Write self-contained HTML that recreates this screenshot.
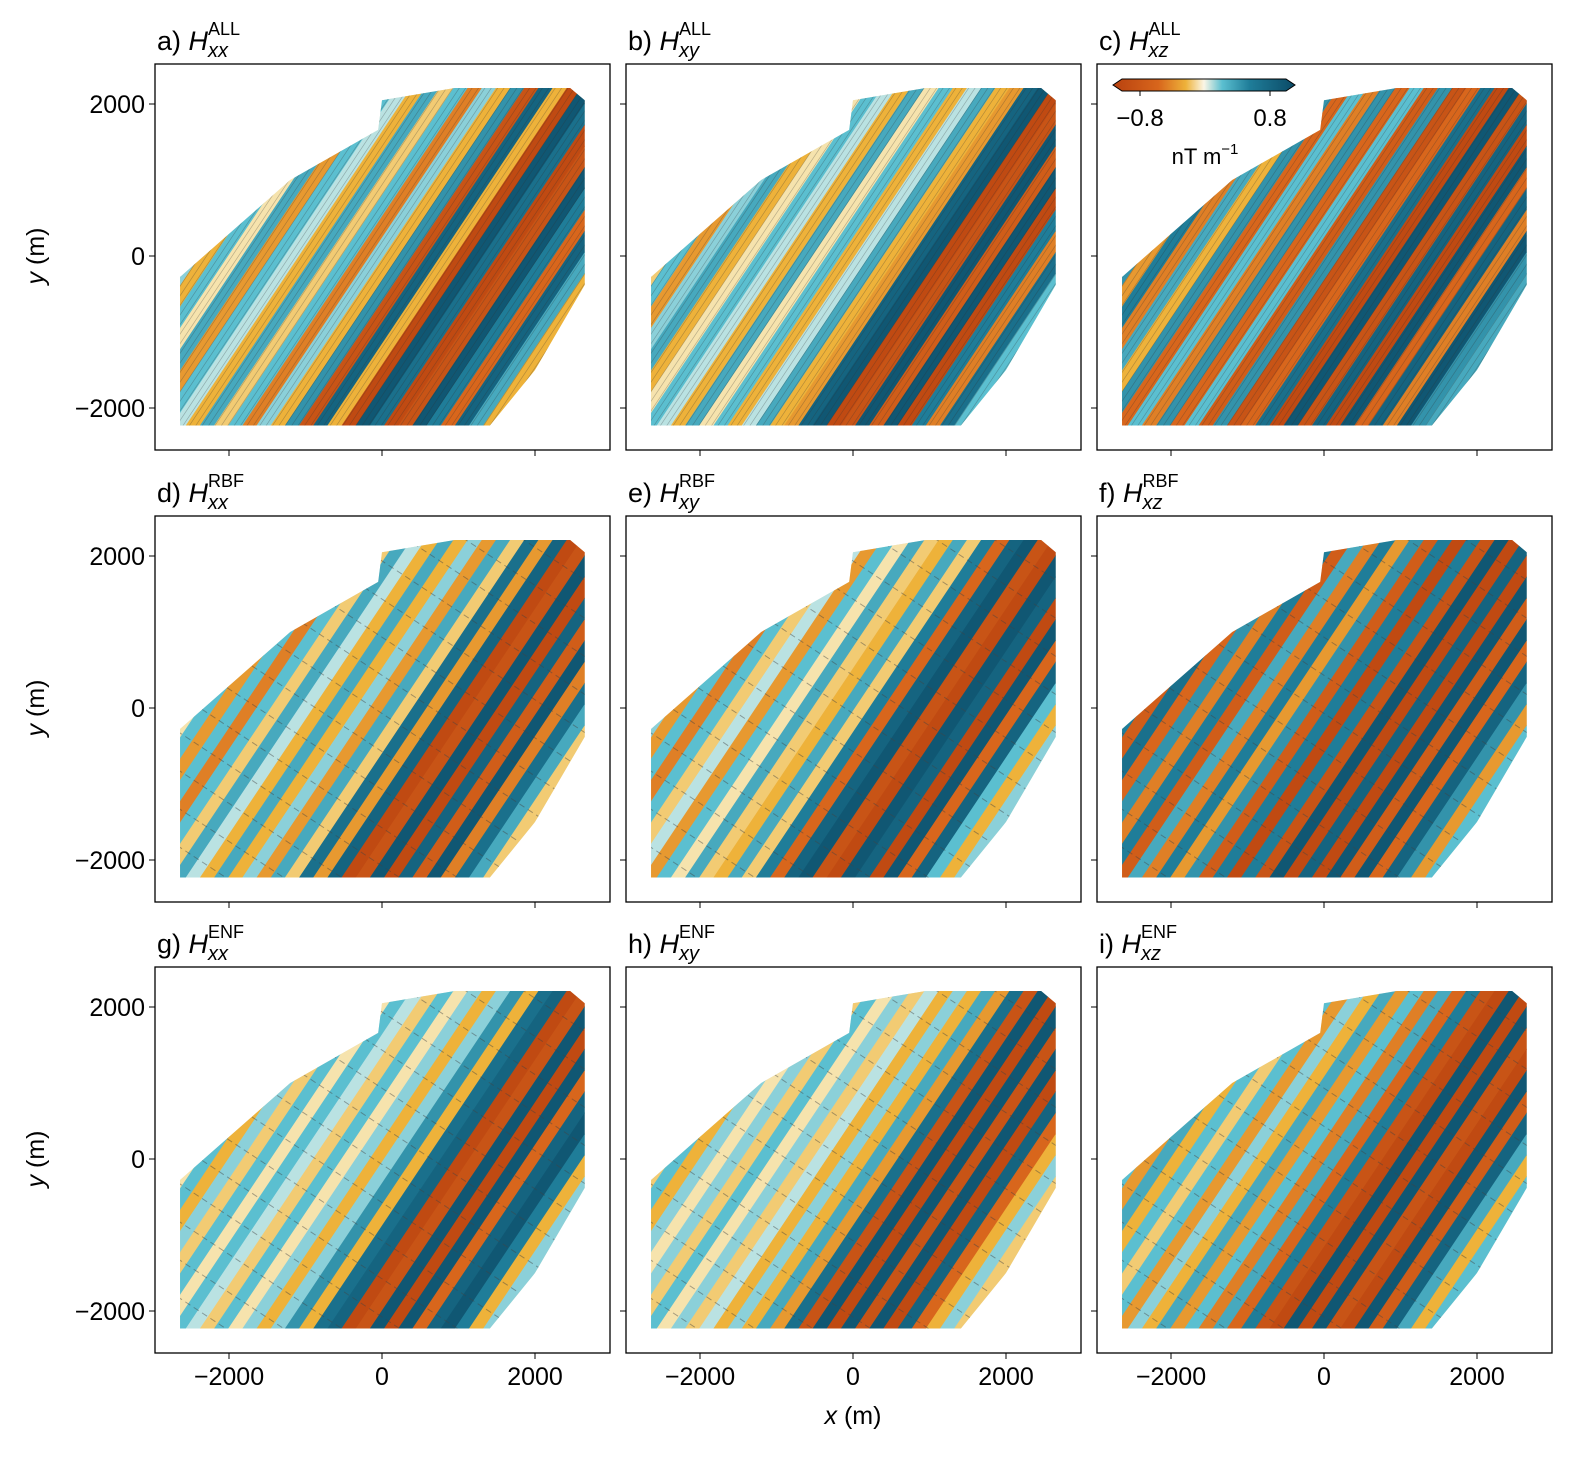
<!DOCTYPE html>
<html><head><meta charset="utf-8">
<style>
html,body{margin:0;padding:0;background:#fff;overflow:hidden;width:1582px;height:1460px;}
svg{display:block;overflow:hidden;}
svg text{font-family:"Liberation Sans",sans-serif;fill:#000;}
</style></head>
<body>
<svg id="fig" width="1582" height="1460" viewBox="0 0 1582 1460" xmlns="http://www.w3.org/2000/svg">
<defs>
<linearGradient id="cbg" x1="0" x2="1" y1="0" y2="0">
<stop offset="0" stop-color="#b8410f"/><stop offset="0.25" stop-color="#d8661c"/><stop offset="0.4" stop-color="#eeb23a"/><stop offset="0.5" stop-color="#fbf6e6"/><stop offset="0.6" stop-color="#5bbfd0"/><stop offset="0.75" stop-color="#1f7d99"/><stop offset="1" stop-color="#0b4a66"/>
</linearGradient>
</defs>
</svg>
<script>
// survey outline in data coords (m)
const outlineX=[-2640,-2640,1410,2000,2650,2650,2460,950,0,-50,-1200];
const outlineY=[-276,-2230,-2230,-1500,-380,2050,2210,2210,2050,1660,1000];
// band values along perpendicular axis (positive = teal, negative = orange)
const bandsA=[0.2,-0.3,0.3,-0.1,0.4,-0.4,0.3,0.1,-0.3,0.4,-0.2,0.3,-0.5,0.2,-0.3,0.5,-0.8,0.8,-0.3,-0.9,0.9,0.7,-0.9,-0.8,0.9,0.6,-0.6,0.8,0.4,-0.3];
const bandsB=[-0.2,0.3,-0.4,0.2,0.4,-0.3,-0.1,0.3,0.1,-0.3,0.4,-0.1,0.3,-0.3,0.1,0.4,-0.3,-0.4,0.8,0.9,-0.9,-0.8,0.9,-0.7,0.9,-0.9,0.6,-0.5,0.7,0.3];
const bandsC=[0.5,-0.4,0.6,-0.5,0.4,-0.3,0.5,-0.6,0.3,-0.5,0.5,-0.6,0.3,-0.7,0.5,-0.8,-0.6,0.7,-0.9,0.9,-0.8,0.8,-0.9,0.9,-0.6,0.8,-0.5,0.9,0.5,0.4];
const bandsD=[-0.1,0.3,-0.4,0.3,-0.5,0.3,-0.2,0.4,0.1,-0.3,0.4,-0.3,0.2,-0.4,0.4,-0.2,0.7,-0.4,0.8,-0.9,-0.8,0.9,-0.9,0.8,-0.7,0.9,-0.5,0.7,0.4,-0.2];
const bandsE=[0.2,-0.4,0.3,-0.5,0.3,-0.2,0.1,-0.4,0.3,-0.1,0.4,-0.2,-0.3,0.4,-0.2,0.6,-0.6,0.8,0.9,-0.8,-0.9,0.9,0.8,-0.9,0.9,-0.6,0.8,0.3,-0.3,0.2];
const bandsF=[0.6,-0.7,0.7,-0.6,0.5,-0.5,0.6,-0.7,0.4,-0.5,0.6,-0.4,0.5,-0.7,0.6,-0.9,0.6,-0.8,0.9,-0.9,0.8,-0.9,0.9,-0.7,0.9,-0.6,0.8,0.5,-0.4,0.3];
const bandsG=[-0.1,0.3,-0.3,0.2,-0.2,0.3,-0.1,0.3,0.1,-0.2,0.3,-0.1,0.2,-0.3,0.2,0.5,-0.3,0.7,0.8,-0.9,-0.8,0.9,-0.9,0.9,-0.6,0.8,0.9,0.6,-0.3,0.2];
const bandsH=[-0.2,0.3,-0.3,0.2,-0.1,0.2,-0.2,0.3,-0.1,0.2,-0.2,0.1,-0.3,0.2,-0.3,0.4,-0.4,0.7,-0.8,0.9,-0.9,0.9,-0.8,0.9,-0.9,0.8,-0.6,-0.3,0.2,-0.2];
const bandsI=[0.3,-0.4,0.4,-0.3,0.3,-0.2,0.3,-0.4,0.2,-0.3,0.4,-0.4,0.3,-0.5,0.4,-0.6,0.6,-0.8,-0.9,0.9,-0.9,0.9,-0.8,-0.9,0.9,-0.7,0.8,0.4,-0.3,0.3];
const panelBands=[bandsA,bandsB,bandsC,bandsD,bandsE,bandsF,bandsG,bandsH,bandsI];
const panelLetters=["a","b","c","d","e","f","g","h","i"];
const compNames=["xx","xy","xz"];
const rowSup=["ALL","RBF","ENF"];
const xTicks=[-2000,0,2000];
const yTicks=[-2000,0,2000];

const NS="http://www.w3.org/2000/svg";
const svg=document.getElementById("fig");
const PX0=[155,626,1097],PY0=[64,516,967],PW=455,PH=386;
function xs(c,x){return PX0[c]+227+x*0.0765;}
function ys(r,y){return PY0[r]+192-y*0.076;}
function mk(tag,attrs,parent){const e=document.createElementNS(NS,tag);for(const k in attrs)e.setAttribute(k,attrs[k]);(parent||svg).appendChild(e);return e;}
const stops=[[-1,[184,65,15]],[-0.6,[216,102,28]],[-0.3,[238,178,58]],[-0.08,[247,232,184]],[0.08,[196,229,228]],[0.3,[91,191,208]],[0.6,[31,125,153]],[1,[11,74,102]]];
function cmap(v){v=Math.max(-1,Math.min(1,v));for(let i=0;i<stops.length-1;i++){const[a,ca]=stops[i],[b,cb]=stops[i+1];if(v<=b){const f=(v-a)/(b-a);return "rgb("+ca.map((q,j)=>Math.round(q+(cb[j]-q)*f)).join(",")+")";}}return "rgb(11,74,102)";}
const dx=0.55,dy=0.83,nx=0.83,ny=-0.55,sMin=-2150,bw=155;
const BX=2680,BY=2240;
function trange(s,px,py,ux,uy){
  const ox=s*px,oy=s*py;let lo=-1e9,hi=1e9;
  if(Math.abs(ux)>1e-6){const a=(-BX-ox)/ux,b=(BX-ox)/ux;lo=Math.max(lo,Math.min(a,b));hi=Math.min(hi,Math.max(a,b));}
  if(Math.abs(uy)>1e-6){const a=(-BY-oy)/uy,b=(BY-oy)/uy;lo=Math.max(lo,Math.min(a,b));hi=Math.min(hi,Math.max(a,b));}
  return [lo,hi];
}

for(let r=0;r<3;r++)for(let c=0;c<3;c++){
  const k=r*3+c;const vals=panelBands[k];
  const g=mk("g",{});
  
  
  const cp=mk("clipPath",{id:"cp"+k},svg.querySelector("defs"));
  mk("polygon",{points:outlineX.map((x,i)=>xs(c,x)+","+ys(r,outlineY[i])).join(" ")},cp);
  const mg=mk("g",{"clip-path":"url(#cp"+k+")"},g);
  mk("rect",{x:xs(c,-2700),y:ys(r,2260),width:xs(c,2700)-xs(c,-2700),height:ys(r,-2260)-ys(r,2260),fill:cmap(0)},mg);
  vals.forEach((v,i)=>{
    const s0=sMin+i*bw,s1=s0+bw+6;
    const r0=trange(s0,nx,ny,dx,dy),r1=trange(s1,nx,ny,dx,dy);
    let lo=Math.min(r0[0],r1[0]),hi=Math.max(r0[1],r1[1]);
    if(!(hi>lo)){const m=(r0[0]+r0[1]+r1[0]+r1[1])/4;if(!isFinite(m))return;lo=m-200;hi=m+200;}
    lo-=220;hi+=220;
    const pts=[[s0,lo],[s0,hi],[s1,hi],[s1,lo]].map(([s,t])=>xs(c,s*nx+t*dx)+","+ys(r,s*ny+t*dy));
    const b=mk("polygon",{points:pts.join(" "),fill:cmap(v)},mg);
    
    
  });
  if(r===0){for(let s=-2200;s<2500;s+=70){const[lo,hi]=trange(s,nx,ny,dx,dy);if(!(hi>lo))continue;mk("line",{x1:xs(c,s*nx+lo*dx),y1:ys(r,s*ny+lo*dy),x2:xs(c,s*nx+hi*dx),y2:ys(r,s*ny+hi*dy),stroke:"#333","stroke-width":0.7,opacity:0.3},mg);}}
  else{for(let t=-3000;t<3500;t+=420){const[lo,hi]=trange(t,dx,dy,nx,ny);if(!(hi>lo))continue;mk("line",{x1:xs(c,t*dx+lo*nx),y1:ys(r,t*dy+lo*ny),x2:xs(c,t*dx+hi*nx),y2:ys(r,t*dy+hi*ny),stroke:"#444","stroke-width":1,"stroke-dasharray":"6,4",opacity:0.45},mg);}}
  mk("rect",{x:PX0[c],y:PY0[r],width:PW,height:PH,fill:"none",stroke:"#000","stroke-width":1.3},g);
  yTicks.forEach(v=>{mk("line",{x1:PX0[c]-6,x2:PX0[c],y1:ys(r,v),y2:ys(r,v),stroke:"#000"},g);
    if(c===0){const t=mk("text",{x:PX0[c]-10,y:ys(r,v)+9,"text-anchor":"end","font-size":25},g);t.textContent=(v<0?"\u2212":"")+Math.abs(v);}});
  xTicks.forEach(v=>{mk("line",{x1:xs(c,v),x2:xs(c,v),y1:PY0[r]+PH,y2:PY0[r]+PH+6,stroke:"#000"},g);
    if(r===2){const t=mk("text",{x:xs(c,v),y:PY0[r]+PH+32,"text-anchor":"middle","font-size":25},g);t.textContent=(v<0?"\u2212":"")+Math.abs(v);}});
  const tt=mk("text",{x:PX0[c]+2,y:PY0[r]-14,"font-size":27},g);
  
  
  tt.innerHTML=panelLetters[k]+') <tspan font-style="italic">H</tspan><tspan font-style="italic" font-size="20" dy="7">'+compNames[c]+'</tspan><tspan font-size="18" dy="-22" dx="-20">'+rowSup[r]+'</tspan>';
}
for(let r=0;r<3;r++){const t=mk("text",{transform:"translate(44,"+(PY0[r]+192)+") rotate(-90)","text-anchor":"middle","font-size":25});
  
  
  t.innerHTML='<tspan font-style="italic">y</tspan> (m)';}
const xl=mk("text",{x:853,y:1424,"text-anchor":"middle","font-size":25});


xl.innerHTML='<tspan font-style="italic">x</tspan> (m)';
const cb=mk("g",{});


mk("polygon",{points:"1113,85 1122,79 1286,79 1295,85 1286,91 1122,91",fill:"url(#cbg)",stroke:"#000","stroke-width":1},cb);
[[1140,"\u22120.8"],[1270,"0.8"]].forEach(([x,s])=>{mk("line",{x1:x,x2:x,y1:91,y2:96,stroke:"#000"},cb);const t=mk("text",{x:x,y:126,"text-anchor":"middle","font-size":24},cb);t.textContent=s;});
const ul=mk("text",{x:1205,y:164,"text-anchor":"middle","font-size":22},cb);
ul.innerHTML='nT m<tspan font-size="15" dy="-10">\u22121</tspan>';
</script>
</body></html>
